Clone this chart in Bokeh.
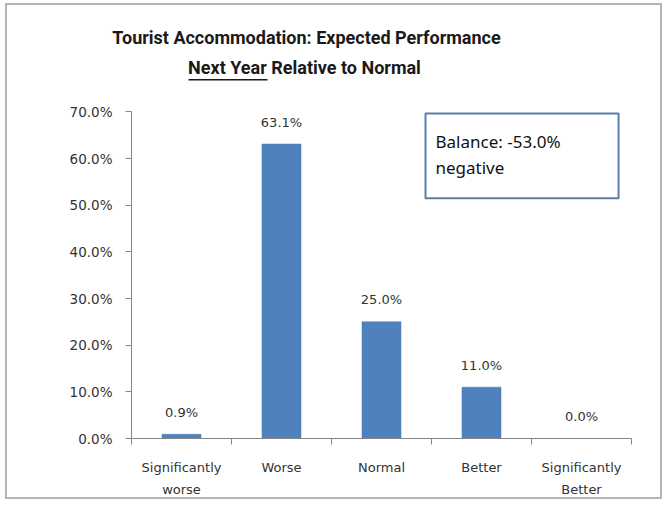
from bokeh.plotting import figure
from bokeh.models import (ColumnDataSource, FixedTicker, NumeralTickFormatter,
                          Label, BoxAnnotation, Range1d)
from bokeh.core.properties import value
from bokeh.embed import file_html
from bokeh.resources import INLINE

# ---- data ----
categories = ["Significantly\nworse", "Worse", "Normal", "Better", "Significantly\nBetter"]
shares = [0.009, 0.631, 0.250, 0.110, 0.000]
y_ticks = [0.0, 0.1, 0.2, 0.3, 0.4, 0.5, 0.6, 0.7]
title_line1 = "Tourist Accommodation: Expected Performance"
title_line2 = "Next Year Relative to Normal"
balance_text = "Balance: -53.0%\nnegative"

xs = [i + 0.5 for i in range(len(categories))]
labels = [f"{v * 100:.1f}%" for v in shares]
src = ColumnDataSource(dict(x=xs, top=shares, lab=labels))

TITLE_FONT = "Roboto"

# frame is extended beyond the data area so that title, note and axis labels fit
# inside it; the axes are limited to the data area with bounds / fixed_location
p = figure(width=657, height=496, output_backend="svg", toolbar_location=None,
           x_range=Range1d(-1.2, 5.2), y_range=Range1d(-0.135, 0.9),
           min_border_left=4, min_border_right=13, min_border_top=13,
           min_border_bottom=0)
p.xgrid.visible = False
p.ygrid.visible = False
p.outline_line_color = None
p.background_fill_color = "white"
p.border_fill_color = "white"
p.styles = {"border": "2px solid #b4b4b4", "margin": "3px 0 0 5px"}

p.vbar(x="x", top="top", width=0.39, bottom=0, source=src,
       fill_color="#4F81BD", line_color="#4A76AE", line_width=0.5)
p.text(x="x", y="top", text="lab", source=src, text_align="center",
       text_baseline="middle", y_offset=-22, text_font=value("DejaVu Sans"),
       text_font_size="13px", text_color="#333333")

# axes
ax = p.xaxis[0]
ax.fixed_location = 0
ax.bounds = (0, len(categories))
ax.ticker = FixedTicker(ticks=xs, minor_ticks=list(range(len(categories) + 1)))
ax.major_label_overrides = {x: c for x, c in zip(xs, categories)}
ax.major_tick_out = 0
ax.major_tick_in = 0
ax.minor_tick_out = 6
ax.minor_tick_in = 0
ax.axis_line_color = "#868686"
ax.minor_tick_line_color = "#868686"
ax.major_label_standoff = 15
ax.major_label_text_font = "DejaVu Sans"
ax.major_label_text_font_size = "13px"
ax.major_label_text_color = "#333333"
ax.major_label_text_line_height = 1.5

ay = p.yaxis[0]
ay.fixed_location = 0
ay.bounds = (y_ticks[0], y_ticks[-1])
ay.ticker = FixedTicker(ticks=y_ticks, minor_ticks=[])
ay.formatter = NumeralTickFormatter(format="0.0%")
ay.major_tick_out = 6
ay.major_tick_in = 0
ay.minor_tick_out = 0
ay.minor_tick_in = 0
ay.axis_line_color = "#868686"
ay.major_tick_line_color = "#868686"
ay.major_label_standoff = 13
ay.major_label_text_font = "DejaVu Sans"
ay.major_label_text_font_size = "13.5px"
ay.major_label_text_color = "#333333"

# title (two lines, "Next Year" underlined); screen units from frame bottom-left
p.add_layout(Label(x=295, y=464, x_units="screen", y_units="screen", text=title_line1,
                   text_align="center", text_baseline="middle",
                   text_font=TITLE_FONT, text_font_style="bold", text_font_size="18px",
                   text_color="#1a1a1a"))
p.add_layout(Label(x=293, y=434, x_units="screen", y_units="screen", text=title_line2,
                   text_align="center", text_baseline="middle",
                   text_font=TITLE_FONT, text_font_style="bold", text_font_size="18px",
                   text_color="#1a1a1a"))
p.add_layout(BoxAnnotation(left=177, right=256, bottom=421, top=422.5,
                           left_units="screen", right_units="screen",
                           bottom_units="screen", top_units="screen",
                           fill_color="#1a1a1a", fill_alpha=1, line_color=None))

# balance note
p.add_layout(Label(x=414, y=388, x_units="screen", y_units="screen", text=balance_text,
                   text_align="left", text_baseline="top",
                   text_font="Noto Sans", text_font_size="17px", text_color="#111111",
                   text_line_height=1.16,
                   padding=dict(left=10, right=58, top=16, bottom=19),
                   border_line_color="#5A7EA8", border_line_width=2,
                   background_fill_color="white"))

open("out.html", "w").write(file_html(p, INLINE))
